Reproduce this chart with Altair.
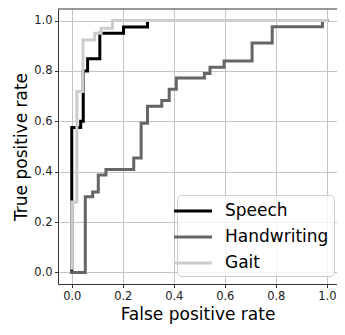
import altair as alt
import pandas as pd

series = ["Speech", "Handwriting", "Gait"]
colors = ["#000000", "#666666", "#cccccc"]

speech_fpr = [0.0, 0.0, 0.035, 0.035, 0.045, 0.045, 0.062, 0.062, 0.11, 0.11, 0.203, 0.203, 0.297, 0.297, 1.0]
speech_tpr = [0.0, 0.575, 0.575, 0.6, 0.6, 0.8, 0.8, 0.848, 0.848, 0.95, 0.95, 0.975, 0.975, 1.0, 1.0]

hand_fpr = [0.0, 0.053, 0.053, 0.082, 0.082, 0.104, 0.104, 0.134, 0.134, 0.243, 0.243, 0.272, 0.272,
            0.297, 0.297, 0.353, 0.353, 0.382, 0.382, 0.41, 0.41, 0.52, 0.52, 0.542, 0.542, 0.597,
            0.597, 0.707, 0.707, 0.786, 0.786, 0.983, 0.983, 1.0]
hand_tpr = [0.0, 0.0, 0.3, 0.3, 0.319, 0.319, 0.387, 0.387, 0.409, 0.409, 0.454, 0.454, 0.592,
            0.592, 0.66, 0.66, 0.683, 0.683, 0.727, 0.727, 0.772, 0.772, 0.79, 0.79, 0.815, 0.815,
            0.84, 0.84, 0.911, 0.911, 0.976, 0.976, 1.0, 1.0]

gait_fpr = [0.0, 0.0, 0.02, 0.02, 0.044, 0.044, 0.09, 0.09, 0.115, 0.115, 0.16, 0.16, 1.0]
gait_tpr = [0.017, 0.28, 0.28, 0.718, 0.718, 0.923, 0.923, 0.95, 0.95, 0.97, 0.97, 1.0, 1.0]

x_ticks = [0.0, 0.2, 0.4, 0.6, 0.8, 1.0]
y_ticks = [0.0, 0.2, 0.4, 0.6, 0.8, 1.0]

rows = []
for name, fx, ty in [("Speech", speech_fpr, speech_tpr),
                     ("Handwriting", hand_fpr, hand_tpr),
                     ("Gait", gait_fpr, gait_tpr)]:
    for i, (a, b) in enumerate(zip(fx, ty)):
        rows.append({"series": name, "fpr": a, "tpr": b, "idx": i})
df = pd.DataFrame(rows)

W, H = 279, 275
FONT = "DejaVu Sans"

xscale = alt.Scale(domain=[-0.054, 1.04], nice=False, zero=False)
yscale = alt.Scale(domain=[-0.046, 1.046], nice=False, zero=False)
cscale = alt.Scale(domain=series, range=colors)

legend = alt.Legend(
    orient="none", legendX=119, legendY=186, title=None,
    symbolType="M-2,0H2", symbolSize=361, symbolStrokeWidth=3,
    labelFontSize=17, labelFont=FONT, labelColor="black", labelOffset=21,
    fillColor="rgba(255,255,255,0.8)", strokeColor="#cccccc", cornerRadius=4,
    padding=5, rowPadding=7,
)

layers = []
for name in series:
    layers.append(
        alt.Chart(df).transform_filter(alt.datum.series == name)
        .mark_line(strokeWidth=3, strokeCap="square", clip=True)
        .encode(
            x=alt.X("fpr:Q", scale=xscale,
                    axis=alt.Axis(values=x_ticks, format=".1f", title="False positive rate",
                                  titlePadding=5)),
            y=alt.Y("tpr:Q", scale=yscale,
                    axis=alt.Axis(values=y_ticks, format=".1f", title="True positive rate",
                                  titlePadding=3)),
            color=alt.Color("series:N", scale=cscale, legend=legend),
            order=alt.Order("idx:Q"),
        )
    )

top = alt.Chart(pd.DataFrame({"a": [0]})).mark_rule(color="#333333", strokeWidth=1).encode(
    x=alt.value(0), x2=alt.value(W), y=alt.value(0)
)

chart = alt.layer(*layers, top).properties(
    width=W, height=H,
    autosize=alt.AutoSizeParams(type="none"),
    padding={"left": 50, "top": 1, "right": 0, "bottom": 43},
).configure_view(stroke=None).configure_axis(
    labelFont=FONT, labelFontSize=11.5, labelColor="#222222",
    titleFont=FONT, titleFontSize=17, titleFontWeight="normal", titleColor="black",
    domainColor="#333333", domainWidth=1, tickColor="#333333", tickSize=3.5,
    labelPadding=2.5, gridColor="#c4c4c4", gridWidth=1,
)

chart.save("out.html", embed_options={"renderer": "svg", "actions": False})
